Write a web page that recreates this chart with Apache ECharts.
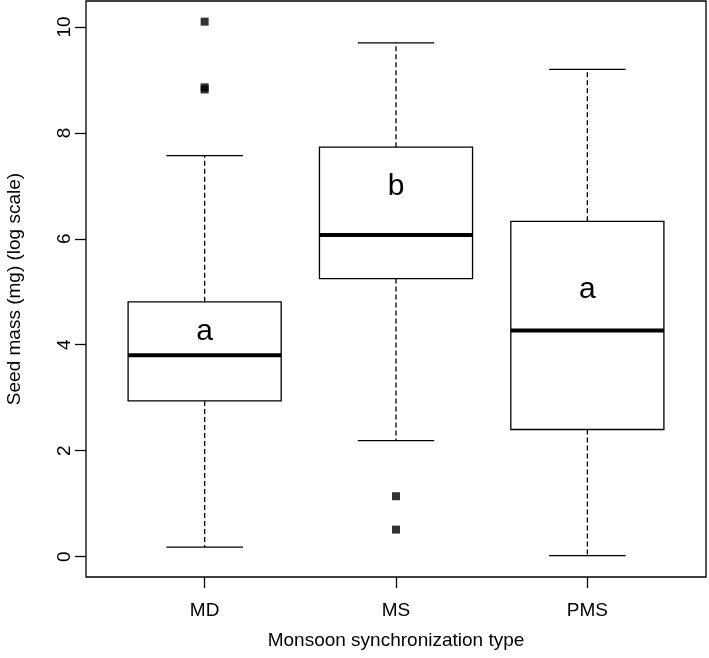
<!DOCTYPE html>
<html><head><meta charset="utf-8">
<script src="https://cdn.jsdelivr.net/npm/echarts@6/dist/echarts.min.js"></script>
<style>html,body{margin:0;padding:0;background:#fff}#c{width:709px;height:658px}</style>
</head><body><div id="c"></div>
<script>
const categories = ['MD', 'MS', 'PMS'];
const whiskerLow  = [0.18, 2.19, 0.02];
const q1          = [2.94, 5.25, 2.40];
const median      = [3.80, 6.07, 4.27];
const q3          = [4.81, 7.73, 6.33];
const whiskerHigh = [7.57, 9.70, 9.20];
const outlierCat  = [0, 0, 0, 1, 1];
const outlierVal  = [10.10, 8.86, 8.82, 1.14, 0.51];
const letters     = ['a', 'b', 'a'];
const letterY     = [4.25, 6.98, 5.03];
const yTicks      = [0, 2, 4, 6, 8, 10];

const FONT = '"Liberation Sans", Arial, Helvetica, sans-serif';
const boxData = categories.map((c, i) => [i + 1, whiskerLow[i], q1[i], median[i], q3[i], whiskerHigh[i], letters[i], letterY[i]]);
const outData = outlierCat.map((c, i) => [c + 1, outlierVal[i]]);

function renderBox(params, api) {
  const x = api.value(0);
  const halfW = api.size([0.8, 0])[0] / 2;
  const capW = halfW / 2;
  const pLow = api.coord([x, api.value(1)]);
  const pQ1 = api.coord([x, api.value(2)]);
  const pMed = api.coord([x, api.value(3)]);
  const pQ3 = api.coord([x, api.value(4)]);
  const pHigh = api.coord([x, api.value(5)]);
  const pTxt = api.coord([x, api.value(7)]);
  const cx = pMed[0];
  const solid = { stroke: '#000', lineWidth: 1.3 };
  const dashed = { stroke: '#000', lineWidth: 1.3, lineDash: [5, 3] };
  return {
    type: 'group',
    children: [
      { type: 'line', shape: { x1: cx, y1: pQ3[1], x2: cx, y2: pHigh[1] }, style: dashed },
      { type: 'line', shape: { x1: cx, y1: pQ1[1], x2: cx, y2: pLow[1] }, style: dashed },
      { type: 'line', shape: { x1: cx - capW, y1: pHigh[1], x2: cx + capW, y2: pHigh[1] }, style: solid },
      { type: 'line', shape: { x1: cx - capW, y1: pLow[1], x2: cx + capW, y2: pLow[1] }, style: solid },
      { type: 'rect', shape: { x: cx - halfW, y: pQ3[1], width: halfW * 2, height: pQ1[1] - pQ3[1] },
        style: { fill: '#fff', stroke: '#000', lineWidth: 1.3 } },
      { type: 'line', shape: { x1: cx - halfW, y1: pMed[1], x2: cx + halfW, y2: pMed[1] },
        style: { stroke: '#000', lineWidth: 4 } },
      { type: 'text', x: cx, y: pTxt[1],
        style: { text: api.value(6), fill: '#000', font: '30px ' + FONT, align: 'center', verticalAlign: 'middle' } }
    ]
  };
}

const chart = echarts.init(document.getElementById('c'), null, { renderer: 'canvas' });
chart.setOption({
  animation: false,
  backgroundColor: '#fff',
  grid: { left: 86, right: 3, top: 1, bottom: 81, show: true, borderColor: '#000', borderWidth: 1.3,
    backgroundColor: 'transparent', containLabel: false, outerBoundsMode: 'none' },
  xAxis: {
    type: 'value', min: 0.38, max: 3.62,
    splitLine: { show: false },
    axisLine: { show: false, onZero: false },
    axisTick: { show: true, length: 11, lineStyle: { color: '#000', width: 1.3 }, customValues: [1, 2, 3] },
    axisLabel: { show: true, margin: 24, color: '#000', fontSize: 19, fontFamily: FONT, customValues: [1, 2, 3],
      formatter: v => categories[Math.round(v) - 1] || '' },
    name: 'Monsoon synchronization type', nameLocation: 'middle', nameGap: 54,
    nameTextStyle: { color: '#000', fontSize: 19, fontFamily: FONT }
  },
  yAxis: {
    type: 'value', min: -0.385, max: 10.49,
    splitLine: { show: false },
    axisLine: { show: false, onZero: false },
    axisTick: { show: true, length: 11, lineStyle: { color: '#000', width: 1.3 }, customValues: yTicks },
    axisLabel: { show: true, rotate: 90, margin: 12, color: '#000', fontSize: 19, fontFamily: FONT, customValues: yTicks },
    name: 'Seed mass (mg) (log scale)', nameLocation: 'middle', nameGap: 62,
    nameTextStyle: { color: '#000', fontSize: 19, fontFamily: FONT }
  },
  series: [
    { type: 'custom', renderItem: renderBox, data: boxData, encode: { x: 0, y: [1, 5] }, clip: false },
    { type: 'scatter', data: outData, symbol: 'rect', symbolSize: 8, itemStyle: { color: '#000' }, z: 5 }
  ]
});
</script>
</body></html>
